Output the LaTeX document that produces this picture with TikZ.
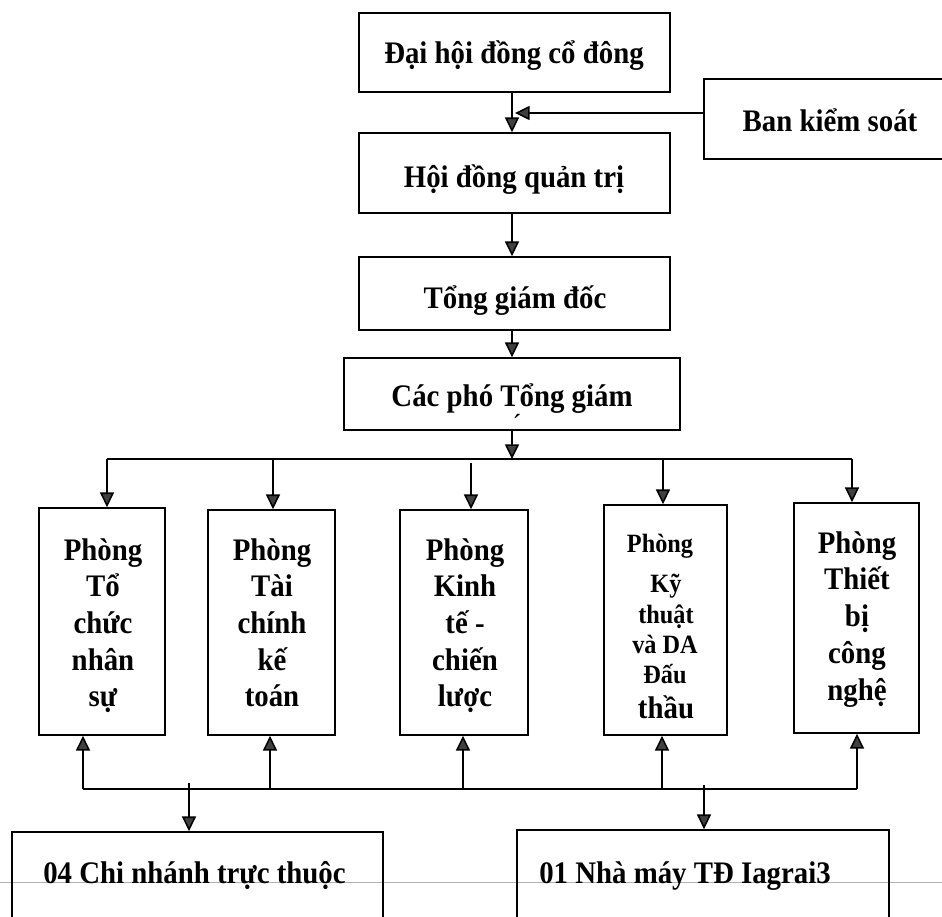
\documentclass[tikz,border=0pt]{standalone}
\usepackage{fontspec}
\setmainfont{Liberation Serif}[FakeStretch=0.92]
\usetikzlibrary{arrows.meta}
\tikzset{
  bx/.style={draw=black, line width=1.3pt, inner sep=0pt},
  lbl/.style={font=\fontsize{23.5}{28}\selectfont\bfseries, inner sep=0pt, anchor=base},
  slbl/.style={lbl, font=\fontsize{19.8}{24}\selectfont\bfseries},
  ln/.style={line width=1.15pt, draw=black},
  arr/.style={ln, -{Triangle[length=11pt,width=10.5pt,fill=black!75]}},
}
\begin{document}
\begin{tikzpicture}[x=0.75pt, y=-0.75pt]
\useasboundingbox (0,0) rectangle (942,917);
\clip (0,0) rectangle (942,917);
\fill[white] (0,0) rectangle (942,917);
% page rule line
\draw[gray!60, line width=0.6pt] (0,882) -- (942,882);

% top chain
\node[bx, minimum width=233.25pt, minimum height=59.25pt] (dh) at (514.5,52.5) {};
\node[lbl] (dht) at (514,64) {Đại hội đồng cổ đông};
\node[bx, minimum width=184.5pt, minimum height=60pt] (bks) at (827,119) {};
\node[lbl] (bkst) at (830,132) {Ban kiểm soát};
\node[bx, minimum width=233.25pt, minimum height=60pt] (hd) at (514.5,173) {};
\node[lbl] (hdt) at (514,187) {Hội đồng quản trị};
\node[bx, minimum width=233.25pt, minimum height=54.75pt] (tgd) at (514.5,293.5) {};
\node[lbl] (tgdt) at (515,308) {Tổng giám đốc};
\node[bx, minimum width=252pt, minimum height=54pt] (pho) at (512,394) {};
\node[lbl] (phot) at (512,406) {Các phó Tổng giám};
\node[inner sep=0pt, anchor=base, font=\fontsize{21.75}{26}\selectfont] (acc) at (517,434) {´};

\coordinate (ax) at (512,0);
\coordinate (bj) at (515,113);
\draw[arr] (dh.south -| ax) -- (hd.north -| ax);
\draw[arr] (bks.west |- bj) -- (bj);
\draw[arr] (hd.south -| ax) -- (tgd.north -| ax);
\draw[arr] (tgd.south -| ax) -- (pho.north -| ax);

% departments
\node[bx, minimum width=94.5pt, minimum height=170.25pt] (d1) at (102,621.5) {};
\node[bx, minimum width=95.25pt, minimum height=168.75pt] (d2) at (271.5,622.5) {};
\node[bx, minimum width=96pt, minimum height=168.75pt] (d3) at (464,622.5) {};
\node[bx, minimum width=92.25pt, minimum height=172.5pt] (d4) at (665.5,620) {};
\node[bx, minimum width=93.75pt, minimum height=172.5pt] (d5) at (856.5,618) {};

\foreach \w [count=\i] in {Phòng,Tổ,chức,nhân,sự}
  \node[lbl] (d1t\i) at (103,{560+36.7*(\i-1)}) {\w};
\foreach \w [count=\i] in {Phòng,Tài,chính,kế,toán}
  \node[lbl] (d2t\i) at (272,{560+36.7*(\i-1)}) {\w};
\foreach \w [count=\i] in {Phòng,Kinh,tế -,chiến,lược}
  \node[lbl] (d3t\i) at (465,{560+36.7*(\i-1)}) {\w};
\foreach \w [count=\i] in {Phòng,Thiết,bị,công,nghệ}
  \node[lbl] (d5t\i) at (857,{553+36.8*(\i-1)}) {\w};
\node[slbl] (d4t1) at (660,552) {Phòng};
\node[slbl] (d4t2) at (666,592) {Kỹ};
\node[slbl] (d4t3) at (666,623) {thuật};
\node[slbl] (d4t4) at (665,653) {và DA};
\node[slbl] (d4t5) at (665,683) {Đấu};
\node[lbl] (d4t6) at (666,718) {thầu};

% upper bus
\coordinate (bus1) at (512,459);
\coordinate (bl) at (107,459);
\coordinate (br) at (852,459);
\coordinate (k2) at (273,459);
\coordinate (k3) at (471,463);
\coordinate (k4) at (663,459);
\draw[arr] (pho.south -| ax) -- (bus1);
\draw[ln] (bl) -- (br);
\draw[arr] (bl) -- (bl |- d1.north);
\draw[arr] (k2) -- (k2 |- d2.north);
\draw[arr] (k3) -- (k3 |- d3.north);
\draw[arr] (k4) -- (k4 |- d4.north);
\draw[arr] (br) -- (br |- d5.north);

% bottom boxes
\node[bx, minimum width=278.25pt, minimum height=96pt] (b1) at (197.5,896) {};
\node[bx, minimum width=279pt, minimum height=97.5pt] (b2) at (703,895) {};
\node[lbl, anchor=base west] (b1t) at (43,883) {04 Chi nhánh trực thuộc};
\node[lbl, anchor=base west] (b2t) at (539,883) {01 Nhà máy TĐ Iagrai3};

% lower bus
\coordinate (ul) at (83,789);
\coordinate (ur) at (857,789);
\coordinate (u2) at (270,789);
\coordinate (u3) at (463,789);
\coordinate (u4) at (662,789);
\draw[ln] (ul) -- (ur);
\draw[arr] (ul) -- (ul |- d1.south);
\draw[arr] (u2) -- (u2 |- d2.south);
\draw[arr] (u3) -- (u3 |- d3.south);
\draw[arr] (u4) -- (u4 |- d4.south);
\draw[arr] (ur) -- (ur |- d5.south);
\coordinate (q1) at (189,783);
\coordinate (q2) at (704,785);
\draw[arr] (q1) -- (q1 |- b1.north);
\draw[arr] (q2) -- (q2 |- b2.north);
\end{tikzpicture}
\end{document}
